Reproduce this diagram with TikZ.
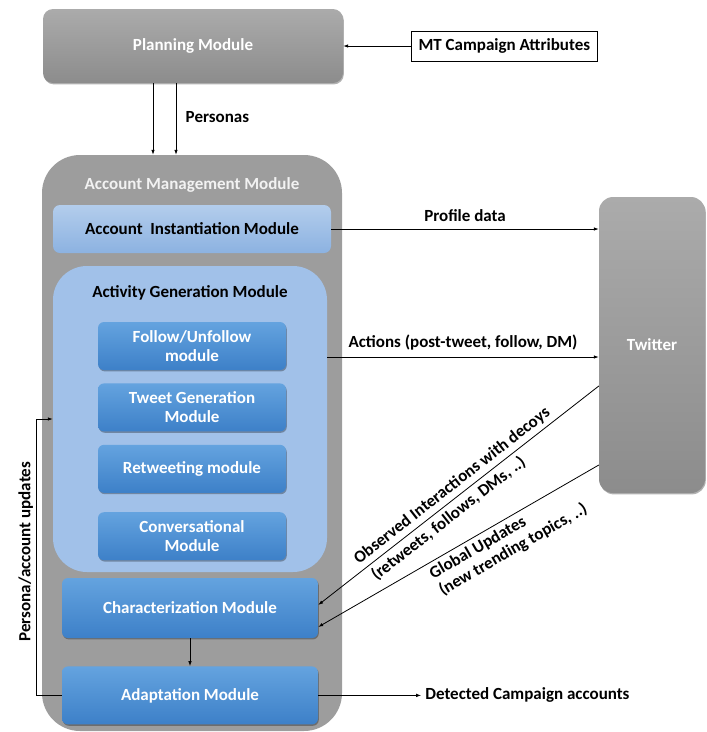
\documentclass[tikz,border=0pt]{standalone}
\usepackage{fontspec}
\setmainfont{Carlito}
\usetikzlibrary{arrows.meta,positioning,shadows}

\definecolor{greytop}{HTML}{ABABAB}
\definecolor{greybot}{HTML}{8C8C8C}
\definecolor{mgmtgrey}{HTML}{9D9D9D}
\definecolor{lighttop}{HTML}{B3CDEC}
\definecolor{lightbot}{HTML}{8CB2E1}
\definecolor{actblue}{HTML}{A1C1E9}
\definecolor{bluetop}{HTML}{64A3DF}
\definecolor{bluebot}{HTML}{3D80C8}

\begin{document}
\begin{tikzpicture}[%
    x=1pt, y=-1pt,              % work on the pixel grid, y going down
    >={Latex[length=5pt,width=3.5pt]},
    node distance=13pt,         % gap between the stacked sub modules
    every node/.style={font=\fontsize{17}{19}\selectfont\bfseries},
    ]

\tikzset{
    base/.style={align=center, inner sep=2pt},
    soft/.style={drop shadow={shadow xshift=0.8pt, shadow yshift=-1.4pt, opacity=0.3, fill=black}},
    greybox/.style={base, soft, rounded corners=10pt, top color=greytop, bottom color=greybot, text=white},
    container/.style={base, rounded corners=38pt, fill=mgmtgrey},
    lightbox/.style={base, rounded corners=7pt, top color=lighttop, bottom color=lightbot, text=black},
    actbox/.style={base, rounded corners=34pt, fill=actblue},
    bluebox/.style={base, soft, rounded corners=6pt, top color=bluetop, bottom color=bluebot, text=white},
    plainbox/.style={base, draw, fill=white, line width=0.8pt, minimum height=30pt, inner xsep=7pt},
    slopelabel/.style={sloped, inner xsep=0pt, inner ysep=4pt},
    link/.style={->, line width=0.8pt},
}

\useasboundingbox (0,0) rectangle (707,732);

%% Planning
\node [greybox, minimum width=300pt, minimum height=74pt] (plan) at (193,46) {Planning Module};
\node [plainbox, right=68pt of plan] (attr) {MT Campaign Attributes};
    \draw[link] (attr) -- (plan);

%% Account management
\node [container, minimum width=300pt, minimum height=576pt] (mgmt) at (192,443) {};
\node [base, text=white!95!black] (mgmttitle) at (192,185) {Account Management Module};
    \draw[link] ([xshift=-40pt]plan.south) -- ([xshift=-40pt]plan.south |- mgmt.north);
    \draw[link] ([xshift=-17pt]plan.south) -- node[right=6pt, pos=0.47] {Personas} ([xshift=-17pt]plan.south |- mgmt.north);

\node [lightbox, minimum width=278pt, minimum height=48pt] (inst) at (192,229) {Account\ \ Instantiation Module};

\node [actbox, minimum width=274pt, minimum height=306pt] (act) at (190,419) {};
\node [base] (acttitle) at (190,293) {Activity Generation Module};

\node [bluebox, minimum width=188pt, minimum height=48pt] (follow) at (192,346) {Follow/Unfollow\\module};
\node [bluebox, minimum width=188pt, minimum height=48pt, below=of follow] (tweet) {Tweet Generation\\Module};
\node [bluebox, minimum width=188pt, minimum height=48pt, below=of tweet] (retweet) {Retweeting module};
\node [bluebox, minimum width=188pt, minimum height=48pt, below=19pt of retweet] (conv) {Conversational\\Module};

\node [bluebox, minimum width=256pt, minimum height=60pt] (char) at (190,608) {Characterization Module};
\node [bluebox, minimum width=256pt, minimum height=58pt, below=28pt of char] (adapt) {Adaptation Module};
    \draw[link] (char) -- (adapt);

%% Twitter
\node [greybox, minimum width=106pt, minimum height=296pt, rounded corners=14pt] (twitter) at (652,345) {Twitter};

    \draw[link] (inst.east) -- node[above=4pt] {Profile data} (inst.east -| twitter.west);
    \draw[link] ([yshift=62pt]act.east) -- node[above=3pt] {Actions (post-tweet, follow, DM)} ([yshift=62pt]act.east -| twitter.west);

    \draw[link, <-] ([yshift=3pt]char.east) --
        node[slopelabel, anchor=south west, pos=0.16] {Observed Interactions with decoys}
        node[slopelabel, anchor=north west, pos=0.17] {(retweets, follows, DMs, ..)}
        ([yshift=-41pt]twitter.west);
    \draw[link, <-] ([yshift=-19pt]char.east) --
        node[slopelabel, anchor=north west, align=left, pos=0.38] {Global Updates\\(new trending topics, ..)}
        ([yshift=-120pt]twitter.west);

%% Outputs and feedback
\node [base, inner xsep=4pt, right=103pt of adapt] (detected) {Detected Campaign accounts};
    \draw[link] (adapt) -- (detected);
    \draw[link] (adapt.west) -- ++(-25pt,0) |- node[pos=0.26, rotate=90, anchor=south] {Persona/account updates} (act.west);
\end{tikzpicture}
\end{document}
